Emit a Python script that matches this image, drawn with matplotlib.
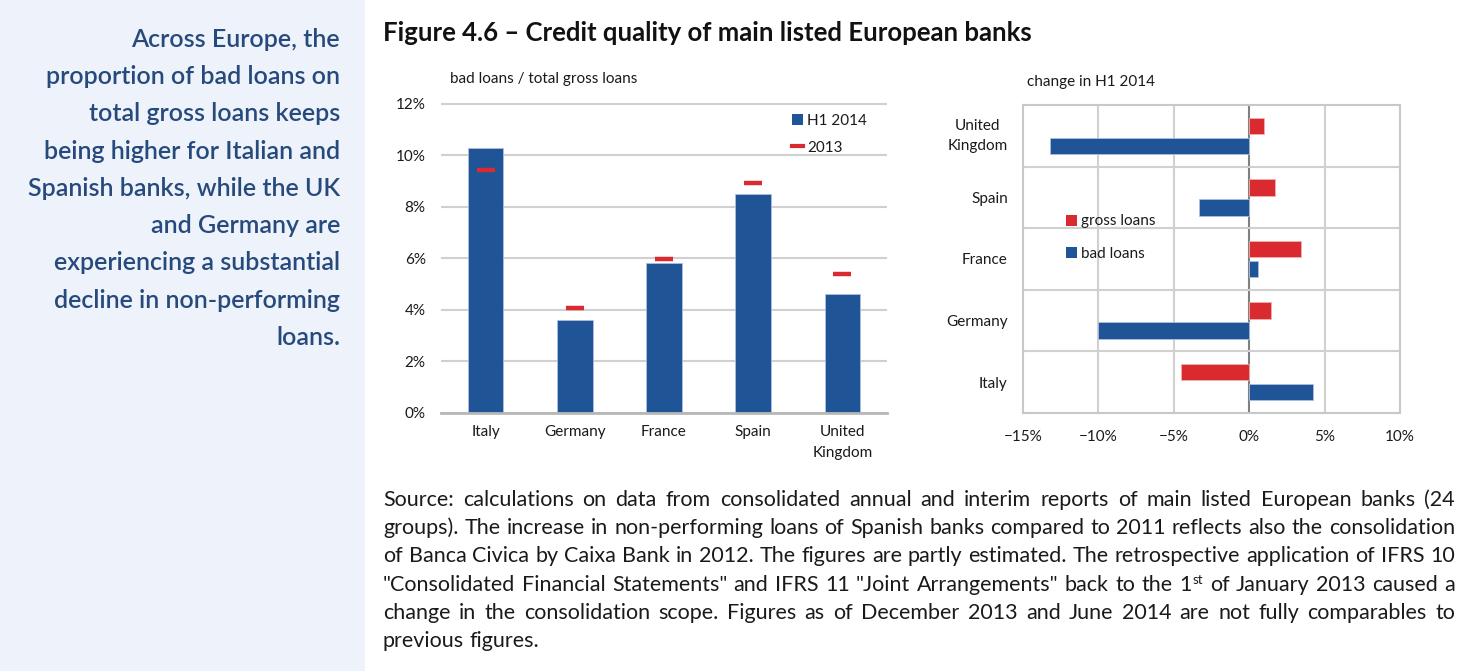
import numpy as np
import matplotlib
matplotlib.use("Agg")
import matplotlib.pyplot as plt
from matplotlib.patches import Patch, Rectangle
from matplotlib.lines import Line2D

# data
countries = ["Italy", "Germany", "France", "Spain", "United\nKingdom"]
bad_ratio_h1_2014 = [10.30, 3.61, 5.84, 8.49, 4.61]
bad_ratio_2013 = [9.45, 4.06, 5.98, 8.93, 5.39]
ratio_ticks = [0, 2, 4, 6, 8, 10, 12]

chg_countries = ["Italy", "Germany", "France", "Spain", "United\nKingdom"]
chg_gross_loans = [-4.5, 1.45, 3.45, 1.7, 1.0]
chg_bad_loans = [4.2, -10.0, 0.6, -3.35, -13.2]
chg_ticks = [-15, -10, -5, 0, 5, 10]

sidebar_lines = [
    "Across Europe, the",
    "proportion of bad loans on",
    "total gross loans keeps",
    "being higher for Italian and",
    "Spanish banks, while the UK",
    "and Germany are",
    "experiencing a substantial",
    "decline in non-performing",
    "loans.",
]
source_lines = [
    "Source: calculations on data from consolidated annual and interim reports of main listed European banks (24",
    "groups). The increase in non-performing loans of Spanish banks compared to 2011 reflects also the consolidation",
    "of Banca Civica by Caixa Bank in 2012. The figures are partly estimated. The retrospective application of IFRS 10",
    "\"Consolidated Financial Statements\" and IFRS 11 \"Joint Arrangements\" back to the 1st of January 2013 caused a",
    "change in the consolidation scope. Figures as of December 2013 and June 2014 are not fully comparables to",
    "previous figures.",
]

BLUE = "#1f5597"
RED = "#d82a2f"
TXT = "#1a1a1a"
W, H = 1473, 671

plt.rcParams["font.family"] = ["Lato", "DejaVu Sans"]

fig = plt.figure(figsize=(W / 100, H / 100), dpi=100)
fig.patch.set_facecolor("white")


def fx(px):
    return px / W


def fy(py):
    return 1 - py / H


# sidebar
fig.patches.append(Rectangle((0, 0), fx(365), 1, transform=fig.transFigure,
                             facecolor="#eef3fb", edgecolor="none", zorder=0))
for i, line in enumerate(sidebar_lines):
    fig.text(fx(340), fy(46.7 + i * 37.3), line, ha="right", va="baseline",
             fontsize=18, fontweight="semibold", color="#274a7d")

fig.text(fx(383), fy(41), "Figure 4.6 \u2013 Credit quality of main listed European banks",
         ha="left", va="baseline", fontsize=18.5, fontweight="bold", color="#111111")

# left chart: bad loans / total gross loans
ax1 = fig.add_axes([fx(441), fy(413), fx(446), (413 - 101.4) / H])
x = np.arange(len(countries))
ax1.bar(x, bad_ratio_h1_2014, width=0.4, color=BLUE, edgecolor="#aebfe0",
        linewidth=0.6, zorder=2)
ax1.plot(x, bad_ratio_2013, ls="none", marker="_", ms=12.5, mew=3.2,
         color=RED, zorder=3)
ax1.set_xlim(-0.5, 4.5)
ax1.set_ylim(0, 12.1)
ax1.set_yticks(ratio_ticks)
ax1.set_yticklabels([f"{t}%" for t in ratio_ticks])
ax1.set_xticks(x)
ax1.set_xticklabels(countries, linespacing=1.6)
ax1.yaxis.grid(True, color="#d0d0d0", lw=1.5)
ax1.set_axisbelow(True)
for s in ["left", "right", "top"]:
    ax1.spines[s].set_visible(False)
ax1.spines["bottom"].set_color("#b8b8b8")
ax1.spines["bottom"].set_linewidth(2)
ax1.tick_params(axis="y", length=0, pad=11, labelsize=11, labelcolor=TXT)
ax1.tick_params(axis="x", length=0, pad=9, labelsize=11, labelcolor=TXT)
fig.text(fx(450), fy(79), "bad loans / total gross loans", ha="left", va="center",
         fontsize=11, color=TXT)
ax1.legend(handles=[Patch(facecolor=BLUE, edgecolor="none", label="H1 2014"),
                    Line2D([], [], color=RED, lw=3, label="2013")],
           loc="upper left", bbox_to_anchor=(fx(792), fy(114)),
           bbox_transform=fig.transFigure, frameon=False, fontsize=11,
           handlelength=0.7, handleheight=0.7, handletextpad=0.3,
           labelspacing=0.83, borderpad=0, borderaxespad=0, labelcolor=TXT)

# right chart: change in H1 2014
ax2 = fig.add_axes([fx(1023), fy(413), fx(377), 308 / H])
y = np.arange(len(chg_countries))
ax2.barh(y + 0.163, chg_gross_loans, height=0.265, color=RED,
         edgecolor="#f0b0b0", linewidth=0.6, zorder=2)
ax2.barh(y - 0.163, chg_bad_loans, height=0.265, color=BLUE,
         edgecolor="#aebfe0", linewidth=0.6, zorder=2)
ax2.set_xlim(-15, 10)
ax2.set_ylim(-0.5, 4.5)
ax2.set_xticks(chg_ticks)
ax2.set_xticklabels([("\u2212" + f"{-t}%") if t < 0 else f"{t}%" for t in chg_ticks])
ax2.set_yticks(y)
ax2.set_yticklabels(chg_countries, multialignment="center", linespacing=1.6)
ax2.get_yticklabels()[-1].set_va("center")
for t in chg_ticks[1:-1]:
    ax2.axvline(t, color="#808080" if t == 0 else "#d0d0d0", lw=1.5, zorder=1)
for b in np.arange(0.5, 4.5, 1):
    ax2.axhline(b, color="#d0d0d0", lw=1.5, zorder=1)
for s in ax2.spines.values():
    s.set_color("#c8c8c8")
    s.set_linewidth(1.5)
ax2.tick_params(axis="y", length=0, pad=11, labelsize=11, labelcolor=TXT)
ax2.tick_params(axis="x", length=0, pad=12, labelsize=11, labelcolor=TXT)
fig.text(fx(1027), fy(82), "change in H1 2014", ha="left", va="center",
         fontsize=11, color=TXT)
ax2.legend(handles=[Patch(facecolor=RED, edgecolor="none", label="gross loans"),
                    Patch(facecolor=BLUE, edgecolor="none", label="bad loans")],
           loc="upper left", bbox_to_anchor=(fx(1066), fy(214.5)),
           bbox_transform=fig.transFigure, frameon=False, fontsize=11,
           handlelength=0.7, handleheight=0.7, handletextpad=0.3,
           labelspacing=1.18, borderpad=0, borderaxespad=0, labelcolor=TXT)

# source note, justified word by word
renderer = fig.canvas.get_renderer()


def text_width(s, size):
    t = fig.text(0, 0, s, fontsize=size)
    w = t.get_window_extent(renderer).width
    t.remove()
    return w


x_left, x_right = 383, 1455
# the second line is set tight in the original, so size the font on it
SRC_SIZE = 14.0 * (x_right - x_left - 4) / text_width(source_lines[1], 14.0)


def word_width(w):
    if w == "1st":
        return text_width("1", SRC_SIZE) + text_width("st", SRC_SIZE * 0.62) + 1
    return text_width(w, SRC_SIZE)


def draw_word(w, xp, yp):
    if w == "1st":
        fig.text(fx(xp), fy(yp), "1", fontsize=SRC_SIZE, color=TXT, va="baseline")
        w1 = text_width("1", SRC_SIZE) + 1
        fig.text(fx(xp + w1), fy(yp - 7), "st", fontsize=SRC_SIZE * 0.62,
                 color=TXT, va="baseline")
    else:
        fig.text(fx(xp), fy(yp), w, fontsize=SRC_SIZE, color=TXT, va="baseline")


space_w = text_width("a a", SRC_SIZE) - text_width("aa", SRC_SIZE)
for i, line in enumerate(source_lines):
    yb = 505.7 + i * 28.3
    words = line.split(" ")
    widths = [word_width(w) for w in words]
    if i < len(source_lines) - 1:
        gap = (x_right - x_left - sum(widths)) / (len(words) - 1)
    else:
        gap = space_w
    xp = x_left
    for w, wd in zip(words, widths):
        draw_word(w, xp, yb)
        xp += wd + gap

fig.savefig("out.png", dpi=100)
